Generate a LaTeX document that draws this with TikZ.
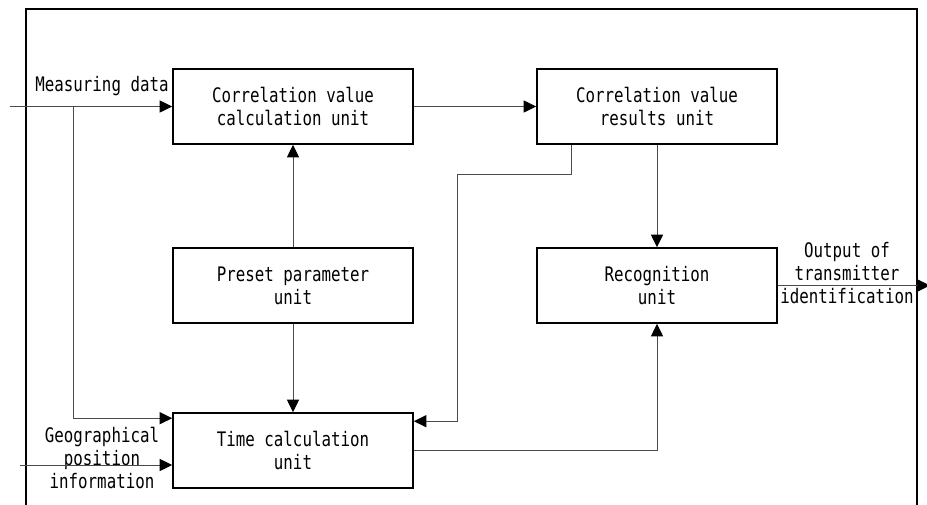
\documentclass[tikz,border=0pt]{standalone}
\usepackage{fontspec}
\setmonofont{DejaVu Sans Mono}[FakeStretch=0.79]
\usetikzlibrary{arrows.meta}
\newcommand\diagtext{\ttfamily\fontsize{20}{23}\selectfont}
\definecolor{wire}{RGB}{75,75,75}

\begin{document}
\begin{tikzpicture}[x=1pt,y=-1pt,
  unitbox/.style={draw=black, line width=1.6pt, minimum width=240pt,
    minimum height=75pt, inner sep=0pt, align=center, font=\diagtext},
  caption/.style={inner sep=0pt, align=center, font=\diagtext},
  wireline/.style={draw=wire, line width=1pt},
  conn/.style={wireline, -{Triangle[length=12.5pt,width=12pt,color=black]}},
  frame/.style={draw=black, line width=1.3pt}]
\useasboundingbox (0,0) rectangle (927,504);

% surrounding frame (open at the bottom edge)
\draw[frame] (26,512) -- (26,9) -- (917,9) -- (917,512);

% processing units
\node[unitbox] (calc)   at (293,106.5) {Correlation value\\calculation unit};
\node[unitbox] (res)    at (657,106.5) {Correlation value\\results unit};
\node[unitbox] (preset) at (293,285.5) {Preset parameter\\unit};
\node[unitbox] (recog)  at (657,285.5) {Recognition\\unit};
\node[unitbox] (time)   at (293,450.5) {Time calculation\\unit};

% external inputs and output
\coordinate (measin) at (10,106.5);
\coordinate (split)  at (73,106.5);
\coordinate (geoin)  at (20,465);
\coordinate (outend) at (930,285.5);

\node[caption] (measlbl) at (102,86)  {Measuring data};
\node[caption] (geolbl)  at (102,458) {Geographical\\position\\information};
\node[caption] (outlbl)  at (847,273) {Output of\\transmitter\\identification};

% connectors
\draw[conn] (measin) -- (calc.west);
\draw[conn] (split) |- ([yshift=-6pt]time.north west);
\draw[conn] (geoin) -- ([yshift=-14.5pt]time.west);
\draw[conn] (calc.east) -- (res.west);
\draw[conn] (preset.north) -- (calc.south);
\draw[conn] (preset.south) -- (time.north);
\draw[conn] ([xshift=-86pt]res.south) |- (457,174) |- ([yshift=-9pt]time.north east);
\draw[conn] (res.south) -- (recog.north);
\draw[conn] (time.east) -| (recog.south);
\draw[conn] (recog.east) -- (outend);
\end{tikzpicture}
\end{document}
